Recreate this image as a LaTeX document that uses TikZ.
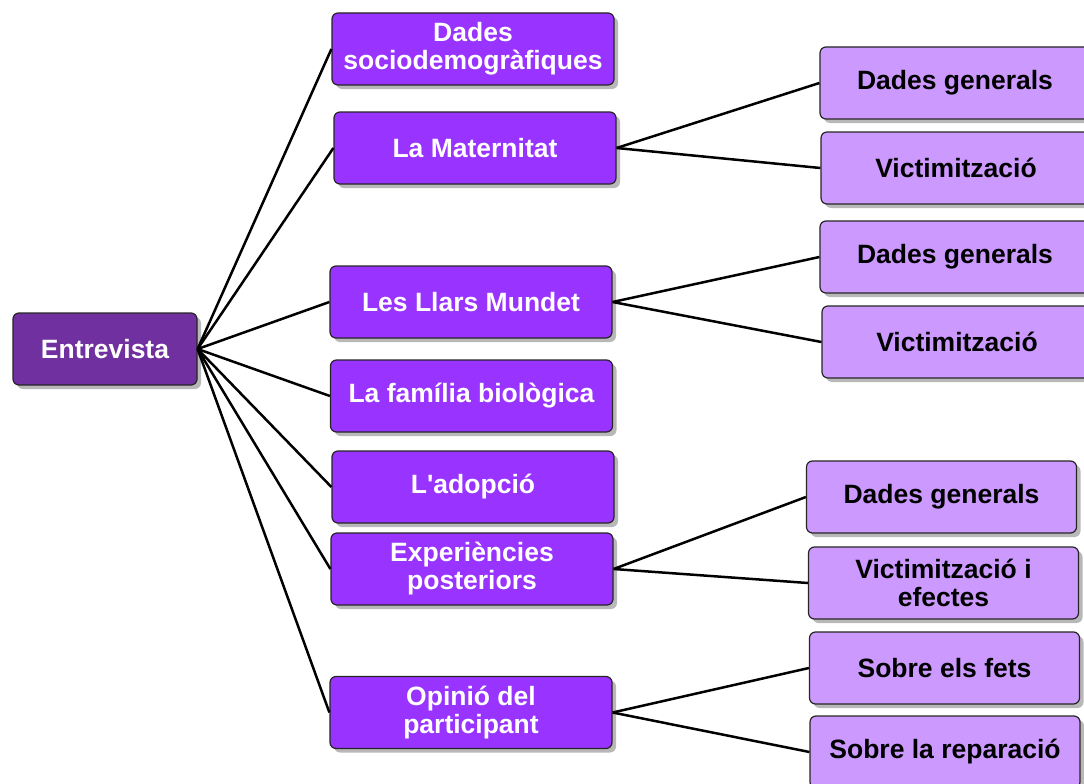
\documentclass[tikz,border=0pt]{standalone}
\usepackage{fontspec}
\setmainfont{Liberation Sans}[Ligatures=TeXOff]
\usetikzlibrary{shadows}

\definecolor{rootpurple}{HTML}{7030A0}
\definecolor{midpurple}{HTML}{9933FF}
\definecolor{lightpurple}{HTML}{CC99FF}

\begin{document}
\begin{tikzpicture}[x=1pt, y=-1pt,
  box/.style={draw=black!85, line width=1.2pt, rounded corners=6pt, align=center,
    inner sep=0pt, minimum height=72pt,
    font=\fontsize{26.5}{28}\selectfont\bfseries,
    drop shadow={shadow xshift=4pt, shadow yshift=-4pt, opacity=0.28, fill=black}},
  rootbox/.style={box, fill=rootpurple, text=white, minimum width=184pt},
  topicbox/.style={box, fill=midpurple, text=white, minimum width=282pt},
  subbox/.style={box, fill=lightpurple, text=black, minimum width=270pt},
  link/.style={line width=2.5pt, black}]
\useasboundingbox[fill=white] (0,0) rectangle (1084,784);
\node[rootbox] (root) at (105.000,349.000) {Entrevista};
\node[topicbox] (soc) at (473.000,49.000) {Dades\\sociodemogràfiques};
\node[topicbox] (mat) at (475.000,148.000) {La Maternitat};
\node[topicbox] (llars) at (471.000,302.000) {Les Llars Mundet};
\node[topicbox] (fam) at (471.500,396.000) {La família biològica};
\node[topicbox] (adop) at (473.000,487.000) {L'adopció};
\node[topicbox] (exp) at (472.000,569.000) {Experiències\\posteriors};
\node[topicbox] (opi) at (471.000,712.500) {Opinió del\\participant};
\node[subbox] (matgen) at (955.000,83.000) {Dades generals};
\node[subbox] (matvic) at (956.000,168.000) {Victimització};
\node[subbox] (llarsgen) at (955.000,257.000) {Dades generals};
\node[subbox] (llarsvic) at (957.000,342.000) {Victimització};
\node[subbox] (expgen) at (941.500,497.000) {Dades generals};
\node[subbox] (expvic) at (943.500,583.000) {Victimització i\\efectes};
\node[subbox] (opifets) at (944.500,668.000) {Sobre els fets};
\node[subbox] (opirep) at (945.000,752.000) {Sobre la reparació};
\foreach \t in {soc,mat,llars,fam,adop,exp,opi}
  \draw[link] (root.east) -- (\t.west);
\draw[link] (mat.east) -- (matgen.west);
\draw[link] (mat.east) -- (matvic.west);
\draw[link] (llars.east) -- (llarsgen.west);
\draw[link] (llars.east) -- (llarsvic.west);
\draw[link] (exp.east) -- (expgen.west);
\draw[link] (exp.east) -- (expvic.west);
\draw[link] (opi.east) -- (opifets.west);
\draw[link] (opi.east) -- (opirep.west);
\end{tikzpicture}
\end{document}
